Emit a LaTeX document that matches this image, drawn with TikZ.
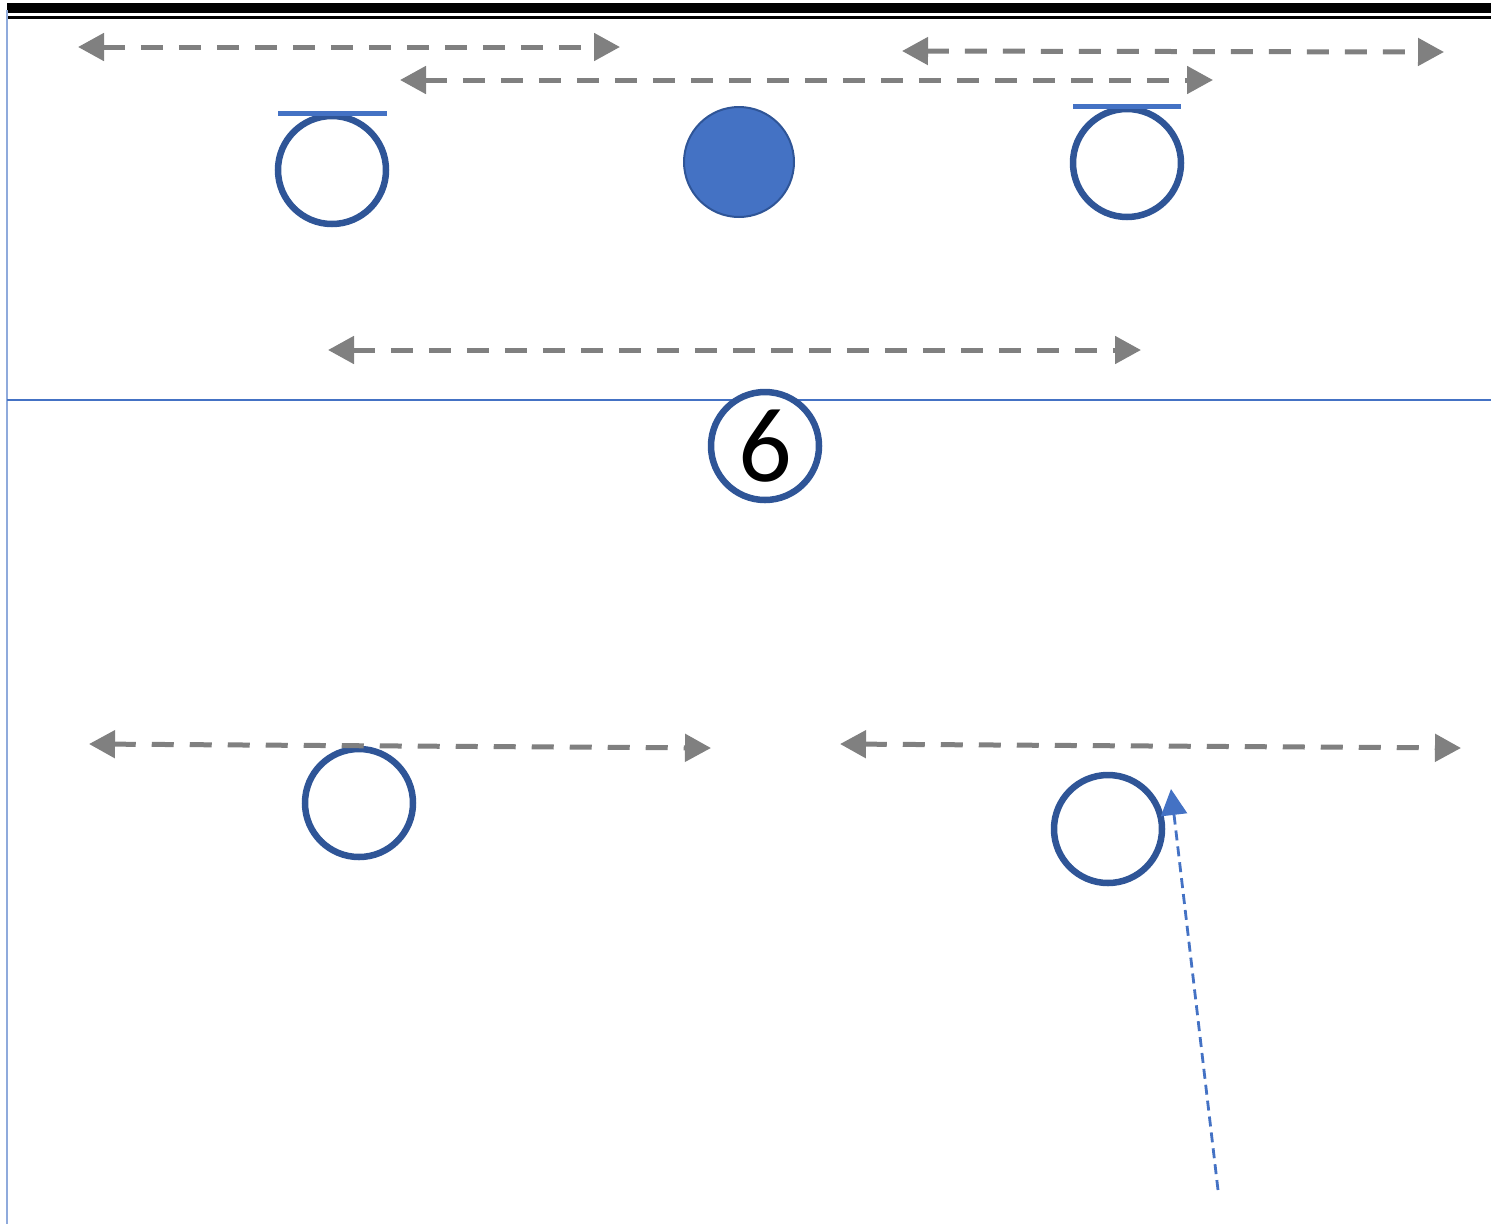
\documentclass[tikz,border=0pt]{standalone}
\usepackage{fontspec}
\setmainfont{Carlito}
\usetikzlibrary{arrows.meta}
\definecolor{ringblue}{HTML}{2F5597}
\definecolor{accblue}{HTML}{4472C4}
\definecolor{lightblue}{HTML}{8FAADC}
\definecolor{arrgray}{HTML}{808080}
\tikzset{
  player/.style={circle, draw=ringblue, line width=6.5pt, minimum size=108pt, inner sep=0pt, fill=white},
  ballnode/.style={circle, draw=ringblue, line width=2pt, minimum size=110pt, inner sep=0pt, fill=accblue},
  movearrow/.style={draw=arrgray, line width=5pt, dash pattern=on 22pt off 16pt,
    {Triangle[length=26pt,width=27pt]}-{Triangle[length=26pt,width=27pt]}},
  bar/.style={draw=accblue, line width=5pt},
  runarrow/.style={draw=accblue, line width=2.8pt, dash pattern=on 10pt off 6pt,
    -{Triangle[length=26pt,width=26pt]}},
}
\begin{document}
\begin{tikzpicture}[x=1pt,y=-1pt]
\useasboundingbox (0,0) rectangle (1491,1224);
% frame lines
\draw[black, line width=10pt] (7,8) -- (1491,8);
\draw[black, line width=3pt] (7,17.5) -- (1491,17.5);
\draw[lightblue, line width=2pt] (7,10) -- (7,1224);
\draw[accblue, line width=1.3pt] (7,400) -- (1491,400);

% players
\node[player] (p1) at (332,170) {};
\node[ballnode] (b) at (739,162) {};
\node[player] (p3) at (1127,163) {};
\node[player] (p6) at (765,446) {\fontsize{106}{106}\selectfont 6};
\node[player] (p5) at (359,803) {};
\node[player] (p4) at (1108,829) {};

% bars above players
\coordinate (b1l) at (278,113.5);
\coordinate (b1r) at (387,113.5);
\draw[bar] (b1l) -- (b1r);
\coordinate (b3l) at (1073,106.5);
\coordinate (b3r) at (1181,106.5);
\draw[bar] (b3l) -- (b3r);

% movement arrows
\coordinate (a1l) at (78,47);   \coordinate (a1r) at (620,47);
\coordinate (a2l) at (400,80);  \coordinate (a2r) at (1213,80);
\coordinate (a3l) at (902,51);  \coordinate (a3r) at (1444,52);
\coordinate (a4l) at (328,350); \coordinate (a4r) at (1141,350);
\coordinate (a5l) at (89,744);  \coordinate (a5r) at (711,748);
\coordinate (a6l) at (840,744); \coordinate (a6r) at (1461,748);
\draw[movearrow] (a1l) -- (a1r);
\draw[movearrow] (a2l) -- (a2r);
\draw[movearrow] (a3l) -- (a3r);
\draw[movearrow] (a4l) -- (a4r);
\draw[movearrow] (a5l) -- (a5r);
\draw[movearrow] (a6l) -- (a6r);

% run arrow
\coordinate (rs) at (1218,1190);
\coordinate (re) at (1171,789);
\draw[runarrow] (rs) -- (re);
\end{tikzpicture}
\end{document}
